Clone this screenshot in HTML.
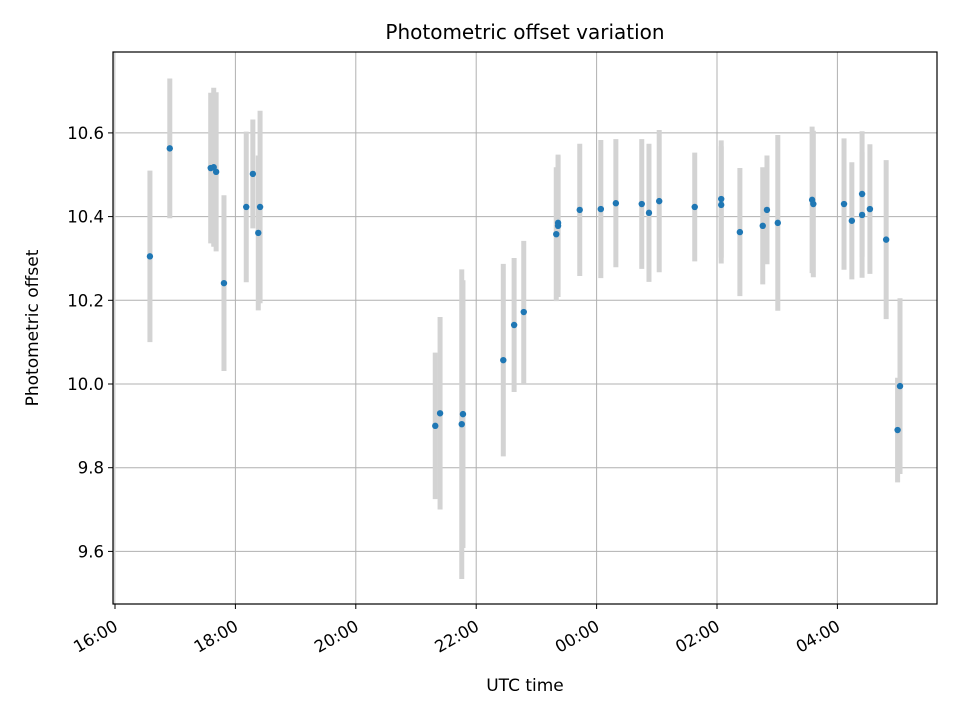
<!DOCTYPE html>
<html><head><meta charset="utf-8"><style>
body{margin:0;background:#fff;}
svg{display:block;font-family:"DejaVu Sans","Liberation Sans",sans-serif;}
</style></head><body>
<svg id="chart" width="960" height="720" viewBox="0 0 960 720">
<rect width="960" height="720" fill="#fff"/>
<text x="525" y="39" font-size="20" text-anchor="middle">Photometric offset variation</text>
<g id="grid"></g>
<line x1="114" x2="114" y1="52" y2="604" stroke="#d3d3d3" stroke-width="3"/>
<g id="bars"></g>
<g id="pts"></g>
<rect x="113" y="52" width="824" height="552" fill="none" stroke="#000" stroke-width="1.2"/>
<g id="axes"></g>
<text x="525" y="691" font-size="17" text-anchor="middle">UTC time</text>
<text transform="translate(38,328) rotate(-90)" font-size="17" text-anchor="middle">Photometric offset</text>
</svg>
<script>
// hours since 16:00 UTC
const times=[0.58,0.91,1.59,1.64,1.68,1.81,2.18,2.29,2.38,2.41,5.32,5.40,5.76,5.78,6.45,6.63,6.79,7.33,7.36,7.36,7.72,8.07,8.32,8.75,8.87,9.04,9.63,10.07,10.07,10.38,10.76,10.83,11.01,11.58,11.60,12.11,12.24,12.41,12.41,12.54,12.81,13.00,13.04];
const offsets=[10.305,10.563,10.516,10.518,10.507,10.241,10.423,10.502,10.361,10.423,9.90,9.93,9.904,9.928,10.057,10.141,10.172,10.358,10.378,10.385,10.416,10.418,10.432,10.43,10.409,10.437,10.423,10.442,10.428,10.363,10.378,10.416,10.385,10.44,10.43,10.43,10.39,10.454,10.404,10.418,10.345,9.89,9.995];
const errors=[0.205,0.167,0.18,0.19,0.19,0.21,0.18,0.13,0.185,0.23,0.175,0.23,0.37,0.32,0.23,0.16,0.17,0.16,0.17,0.16,0.158,0.165,0.153,0.155,0.165,0.17,0.13,0.14,0.14,0.153,0.14,0.13,0.21,0.175,0.175,0.157,0.14,0.15,0.15,0.155,0.19,0.125,0.21];
const yTicks=[9.6,9.8,10.0,10.2,10.4,10.6];
const xTickHours=[0,2,4,6,8,10,12];
const xTickLabels=["16:00","18:00","20:00","22:00","00:00","02:00","04:00"];
const NS="http://www.w3.org/2000/svg";
const xs=h=>115+h*60.2;
const ys=v=>384-(v-10)*418.5;
function mk(tag,attrs,parent){const e=document.createElementNS(NS,tag);for(const k in attrs)e.setAttribute(k,attrs[k]);parent.appendChild(e);return e;}
const grid=document.getElementById('grid'),axes=document.getElementById('axes'),bars=document.getElementById('bars'),pts=document.getElementById('pts');
yTicks.forEach(v=>{
 const y=ys(v);
 const g=mk('line',{x1:113,x2:937,y1:y,y2:y,stroke:'#b0b0b0','stroke-width':1},grid);
 
 
 const t=mk('line',{x1:108,x2:113,y1:y,y2:y,stroke:'#000','stroke-width':1},axes);
 
 
 const l=mk('text',{x:104,y:y+6,'font-size':16.5,'text-anchor':'end'},axes);
 l.textContent=v.toFixed(1);
 
 
});
xTickHours.forEach((h,i)=>{
 const x=xs(h);
 const g=mk('line',{x1:x,x2:x,y1:52,y2:604,stroke:'#b0b0b0','stroke-width':1},grid);
 
 
 const t=mk('line',{x1:x,x2:x,y1:604,y2:609,stroke:'#000','stroke-width':1},axes);
 
 
 const l=mk('text',{transform:`translate(${x-2},${619}) rotate(-30)`,'font-size':16.5,'text-anchor':'end',x:0,y:12},axes);
 l.textContent=xTickLabels[i];
 
 
});
times.forEach((h,i)=>{
 const x=xs(h);
 const b=mk('line',{x1:x,x2:x,y1:ys(offsets[i]+errors[i]),y2:ys(offsets[i]-errors[i]),stroke:'#d3d3d3','stroke-width':5},bars);
 
 
});
times.forEach((h,i)=>{
 const c=mk('circle',{cx:xs(h),cy:ys(offsets[i]),r:3.2,fill:'#1f77b4'},pts);
 
 
});
</script>
</body></html>
